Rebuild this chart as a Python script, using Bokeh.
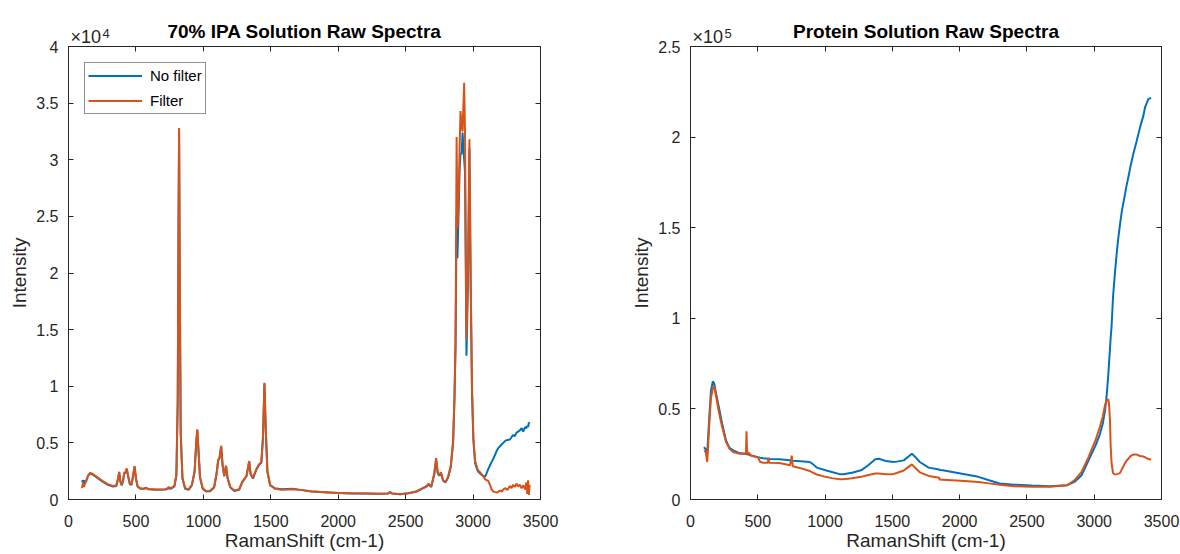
from bokeh.plotting import figure
from bokeh.models import LinearAxis, FixedTicker, Label, Legend, LegendItem, Range1d
from bokeh.layouts import row
from bokeh.embed import file_html
from bokeh.resources import INLINE

# ---------------- data ----------------
x_ticks = [0, 500, 1000, 1500, 2000, 2500, 3000, 3500]

ipa_y_ticks = [0, 5000, 10000, 15000, 20000, 25000, 30000, 35000, 40000]
ipa_y_labels = ["0", "0.5", "1", "1.5", "2", "2.5", "3", "3.5", "4"]

prot_y_ticks = [0, 50000, 100000, 150000, 200000, 250000]
prot_y_labels = ["0", "0.5", "1", "1.5", "2", "2.5"]

ipa_shift = [100, 108, 115, 122, 130, 145, 160, 180, 210, 250, 290, 330, 355, 368, 376, 385, 395,
             405, 413, 422, 432, 442, 455, 468, 480, 490, 500, 512, 530, 560, 575, 590, 650, 720,
             745, 760, 785, 800, 810, 816, 820, 825, 832, 845, 865, 890, 915, 935, 948, 955, 962,
             975, 995, 1020, 1050, 1080, 1098, 1110, 1120, 1132, 1143, 1155, 1168, 1180, 1200,
             1230, 1265, 1290, 1320, 1332, 1340, 1350, 1368, 1390, 1412, 1430, 1442, 1453, 1462,
             1475, 1495, 1530, 1580, 1660, 1720, 1800, 1900, 2000, 2100, 2200, 2300, 2370, 2385,
             2400, 2460, 2520, 2580, 2620, 2655, 2670, 2690, 2712, 2726, 2738, 2750, 2762, 2778,
             2795, 2815, 2835, 2852, 2862, 2870, 2878, 2884, 2892, 2900, 2907, 2915, 2922, 2934,
             2940, 2951, 2962, 2973, 2982, 2992, 3002, 3015, 3035, 3060, 3089, 3100, 3113, 3125,
             3137, 3150, 3165, 3175, 3190, 3200, 3215, 3224, 3240, 3255, 3273, 3285, 3298, 3310,
             3322, 3335, 3347, 3360, 3372, 3385, 3395, 3402, 3408, 3414, 3420]

ipa_filter = [1000, 1500, 1100, 1400, 1600, 2100, 2350, 2250, 2000, 1650, 1350, 1200, 1250, 1900, 2450,
              1600, 1300, 1700, 2350, 2400, 2750, 2100, 1400, 1350, 2200, 2950, 1900, 1200, 1000, 950,
              1050, 920, 880, 900, 1100, 980, 1200, 2200, 9000, 25000, 32800, 20000, 6000, 1900, 1000,
              900, 1300, 2500, 5200, 6200, 4800, 2000, 1000, 750, 780, 1100, 2300, 3500, 3700, 4750,
              3000, 2100, 3000, 1900, 1100, 800, 900, 1600, 2100, 2900, 3400, 2300, 1900, 2600, 3100,
              3300, 5500, 10300, 6500, 2500, 1300, 950, 850, 900, 850, 720, 650, 580, 550, 530, 500,
              540, 650, 520, 470, 560, 700, 950, 1200, 1400, 1150, 2300, 3650, 2400, 2200, 2400, 1700,
              1550, 2000, 3000, 5200, 9000, 14000, 32000, 24000, 26000, 31000, 34300, 33000, 32500,
              36800, 32500, 14100, 20000, 31800, 20000, 10000, 5500, 3400, 2600, 2300, 1800, 1700,
              1650, 1300, 900, 700, 650, 620, 700, 800, 700, 900, 1000, 850, 1200, 1000, 1300, 1100,
              1400, 1150, 1300, 1000, 1250, 900, 1500, 500, 1700, 400, 1300]

ipa_nofilter = [1700, 1500, 1700, 1400, 1600, 2100, 2300, 2200, 1950, 1600, 1300, 1150, 1200, 1850, 2400,
                1550, 1250, 1650, 2300, 2350, 2700, 2050, 1350, 1300, 2150, 2900, 1850, 1150, 980, 930,
                1020, 900, 860, 880, 1000, 950, 1150, 2100, 8500, 24500, 32500, 19500, 5800, 1850, 950,
                850, 1250, 2450, 5100, 6100, 4700, 1950, 950, 700, 720, 1050, 2250, 3450, 3650, 4700,
                2950, 2050, 2950, 1850, 1050, 750, 850, 1550, 2050, 2850, 3350, 2250, 1850, 2550, 3050,
                3250, 5400, 10250, 6400, 2450, 1250, 1000, 900, 950, 850, 700, 640, 570, 540, 520, 500,
                540, 650, 520, 470, 560, 700, 950, 1150, 1300, 1100, 2200, 3550, 2300, 2100, 2300, 1650,
                1500, 1950, 2900, 5000, 8800, 13500, 25000, 21300, 25000, 29000, 30600, 30500, 32400,
                30000, 29000, 12700, 19000, 31000, 19000, 9500, 5300, 3200, 2500, 2200, 2000, 2300,
                2700, 3000, 3300, 3600, 4000, 4300, 4600, 4700, 4900, 5000, 5200, 5250, 5300, 5500, 5700,
                5600, 5900, 6000, 6100, 6300, 6000, 6400, 6300, 6500, 6400, 6800, 6700]

prot_shift = [100, 110, 118, 124, 130, 140, 152, 166, 176, 190, 211, 235, 264, 290, 317, 360, 405, 412,
              416, 420, 430, 436, 445, 502, 518, 540, 575, 580, 584, 660, 740, 752, 760, 818, 885, 905,
              938, 1004, 1050, 1109, 1136, 1200, 1268, 1321, 1373, 1400, 1453, 1506, 1532, 1585, 1620,
              1645, 1670, 1704, 1770, 1848, 1850, 1875, 2007, 2139, 2219, 2298, 2404, 2536, 2668, 2800,
              2853, 2906, 2958, 3011, 3042, 3064, 3080, 3092, 3104, 3110, 3117, 3122, 3129, 3140, 3154,
              3167, 3180, 3192, 3204, 3225, 3241, 3254, 3270, 3291, 3316, 3341, 3366, 3378, 3403, 3423]

prot_filter = [26700, 27000, 24000, 20700, 28000, 42000, 56000, 61500, 62800, 57000, 48200, 40000, 31700,
               28000, 26200, 25300, 25300, 25300, 37700, 27000, 25000, 25800, 24300, 23100, 20700, 20300,
               20300, 23100, 20300, 20100, 18900, 24200, 18300, 17300, 15750, 15000, 13800, 12500, 11800,
               11200, 11200, 11700, 12500, 13500, 14300, 14400, 13900, 14000, 14650, 16000, 18000, 19400,
               17500, 15000, 13000, 12000, 11000, 10900, 10300, 9700, 8900, 8200, 7300, 7000, 7000, 7900,
               10600, 15200, 23400, 33000, 40000, 46000, 52000, 54500, 55400, 53000, 44000, 30000, 20000,
               14500, 13800, 14000, 14300, 14700, 16500, 19500, 21500, 22500, 24000, 24800, 24800, 24000,
               23700, 23300, 22300, 22000]

prot_nofilter = [28900, 28000, 27500, 25500, 33000, 46000, 60000, 65200, 64000, 58500, 50900, 42000, 32600,
                 28500, 27100, 25700, 25300, 25200, 25100, 25000, 24800, 24700, 24500, 23400, 23100, 22800,
                 22500, 22500, 22400, 22200, 21600, 21500, 21400, 21100, 20700, 19800, 17600, 16100, 15200,
                 14000, 13900, 14800, 16100, 18900, 22200, 22500, 21200, 20700, 20900, 21600, 23700, 25300,
                 23500, 20700, 17600, 16500, 16300, 16100, 14300, 12500, 10600, 8800, 8200, 7700, 7300, 7900,
                 9700, 13400, 21600, 30000, 36000, 42000, 49000, 57000, 68000, 75000, 83000, 89000, 95400,
                 112000, 125000, 135800, 145000, 152000, 158500, 167000, 173500, 178000, 184000, 190800,
                 198000, 205500, 212000, 216500, 221100, 221600]

BLUE = "#0072BD"
ORANGE = "#D95319"
INK = "#262626"
FONT = "Liberation Sans"


def make_panel(title, shift, nofilter, filt, ymax, yticks, ylabels, exponent,
               width, border_left, border_right, note_side, with_legend):
    p = figure(width=width, height=554,
               x_range=Range1d(0, 3500), y_range=Range1d(0, ymax),
               output_backend="svg", toolbar_location=None,
               min_border_left=border_left, min_border_right=border_right,
               min_border_top=46, min_border_bottom=55,
               background_fill_color="white", border_fill_color="white")
    p.xgrid.visible = False
    p.ygrid.visible = False
    p.outline_line_color = INK
    p.outline_line_width = 1

    p.title.text = title
    p.title.text_font = FONT
    p.title.text_font_style = "bold"
    p.title.text_font_size = "19px"
    p.title.text_color = "black"
    p.title.align = "center"

    for ax in (p.xaxis[0], p.yaxis[0]):
        ax.major_tick_in = 5
        ax.major_tick_out = 0
        ax.minor_tick_line_color = None
        ax.axis_line_color = INK
        ax.major_tick_line_color = INK
        ax.major_label_text_font = FONT
        ax.major_label_text_font_size = "16px"
        ax.major_label_text_color = INK
        ax.axis_label_text_font = FONT
        ax.axis_label_text_font_size = "19px"
        ax.axis_label_text_font_style = "normal"
        ax.axis_label_text_color = INK

    p.xaxis[0].ticker = FixedTicker(ticks=x_ticks)
    p.xaxis[0].axis_label = "RamanShift (cm-1)"
    p.xaxis[0].major_label_standoff = 15
    p.xaxis[0].axis_label_standoff = 0

    p.yaxis[0].ticker = FixedTicker(ticks=yticks)
    p.yaxis[0].major_label_overrides = {t: l for t, l in zip(yticks, ylabels)}
    p.yaxis[0].axis_label = "Intensity"
    p.yaxis[0].major_label_standoff = 10
    p.yaxis[0].axis_label_standoff = 3

    top = LinearAxis(ticker=FixedTicker(ticks=x_ticks), major_tick_in=5, major_tick_out=0,
                     minor_tick_line_color=None, axis_line_color=None,
                     major_tick_line_color=INK, major_label_text_font_size="1px",
                     major_label_text_color=None, major_label_standoff=0)
    right = LinearAxis(ticker=FixedTicker(ticks=yticks), major_tick_in=5, major_tick_out=0,
                       minor_tick_line_color=None, axis_line_color=None,
                       major_tick_line_color=INK, major_label_text_font_size="1px",
                       major_label_text_color=None, major_label_standoff=0)
    p.add_layout(top, "above")
    p.add_layout(right, "right")

    r_blue = p.line(shift, nofilter, line_color=BLUE, line_width=2)
    r_orange = p.line(shift, filt, line_color=ORANGE, line_width=2)

    # scale-factor note above the y axis; kept in a side panel with spare room so that
    # it is not clipped to the frame and does not push the frame
    p.add_layout(Label(x=0, y=ymax, text="\u00d710", x_offset=2, y_offset=0,
                       text_baseline="bottom", text_font=FONT, text_font_size="18px",
                       text_color=INK), note_side)
    p.add_layout(Label(x=0, y=ymax, text=exponent, x_offset=34, y_offset=9,
                       text_baseline="bottom", text_font=FONT, text_font_size="13px",
                       text_color=INK), note_side)

    if with_legend:
        legend = Legend(items=[LegendItem(label="No filter", renderers=[r_blue]),
                               LegendItem(label="Filter", renderers=[r_orange])],
                        location="top_left")
        legend.border_line_color = INK
        legend.border_line_width = 1
        legend.background_fill_color = "white"
        legend.background_fill_alpha = 1
        legend.label_text_font = FONT
        legend.label_text_font_size = "15px"
        legend.label_text_color = "black"
        legend.glyph_width = 54
        legend.glyph_height = 19
        legend.label_standoff = 8
        legend.padding = 3
        legend.spacing = 6
        legend.margin = 16
        p.add_layout(legend)
    return p


left = make_panel("70% IPA Solution Raw Spectra", ipa_shift, ipa_nofilter, ipa_filter,
                  40000, ipa_y_ticks, ipa_y_labels, "4", 590, 68, 50, "right", True)
right = make_panel("Protein Solution Raw Spectra", prot_shift, prot_nofilter, prot_filter,
                   250000, prot_y_ticks, prot_y_labels, "5", 590, 99, 19, "left", False)

layout = row(left, right)
open("out.html", "w").write(file_html(layout, INLINE))
